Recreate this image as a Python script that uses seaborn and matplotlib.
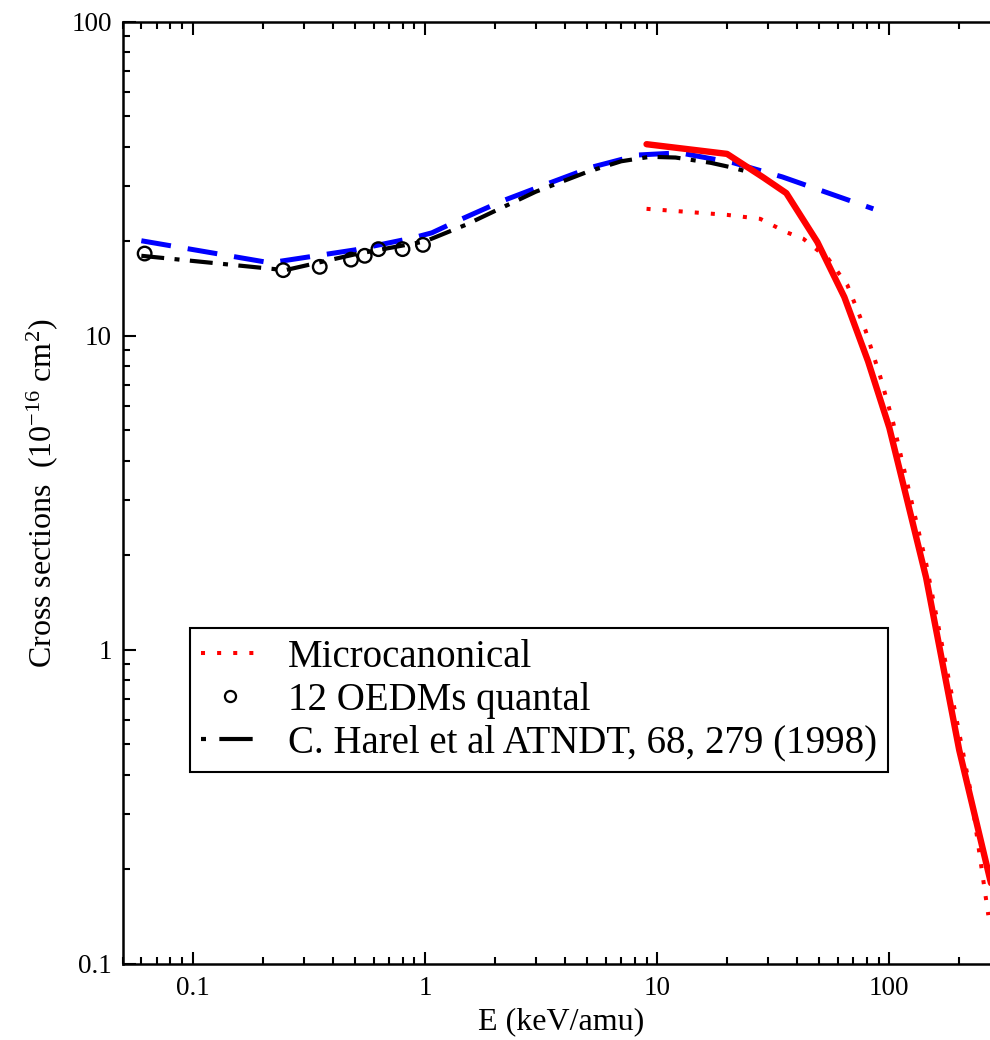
import numpy as np
import pandas as pd
import matplotlib
matplotlib.use("Agg")
import matplotlib.pyplot as plt
from matplotlib.ticker import FixedLocator, FixedFormatter, LogLocator, NullFormatter
from matplotlib.lines import Line2D
import seaborn as sns

# ---------------- data ----------------
micro_solid_E = [9, 20, 28.6, 36, 49, 64, 81, 100, 120, 144, 200, 272, 300]
micro_solid_s = [40.8, 38.0, 32.0, 28.5, 19.9, 13.3, 8.3, 5.1, 2.95, 1.7, 0.48, 0.185, 0.14]

micro_dot_E = [9, 20, 27.8, 36, 42.6, 54.6, 66, 79, 91.5, 104, 120, 144, 223, 267]
micro_dot_s = [25.4, 24.3, 23.6, 21.4, 20.4, 17.6, 14.5, 10.4, 7.4, 5.28, 3.35, 1.89, 0.36, 0.143]

harel_E = [0.06, 0.25, 0.5, 1.0, 1.5, 2.0, 3.0, 5.0, 7.0, 9.3, 12, 17, 20.6, 24.7]
harel_s = [18.0, 16.2, 18.2, 20.0, 22.6, 25.0, 28.8, 33.3, 36.0, 37.2, 37.0, 35.6, 34.5, 33.3]

harel2_E = [0.06, 0.215, 0.5, 0.88, 1.07, 1.37, 2.15, 3.36, 5.25, 8.3, 12.5, 21.3, 34.6, 85.3]
harel2_s = [20.1, 17.1, 18.8, 20.5, 21.3, 23.2, 26.9, 30.5, 34.5, 37.7, 38.3, 35.6, 32.1, 25.4]

oedm_E = [0.062, 0.245, 0.352, 0.48, 0.55, 0.63, 0.80, 0.98]
oedm_s = [18.3, 16.2, 16.6, 17.5, 18.0, 18.9, 18.9, 19.5]

x_ticks = [0.1, 1, 10, 100]
x_ticklabels = ["0.1", "1", "10", "100"]
y_ticks = [0.1, 1, 10, 100]
y_ticklabels = ["0.1", "1", "10", "100"]

legend_labels = ["Microcanonical", "12 OEDMs quantal", "C. Harel et al ATNDT, 68, 279 (1998)"]

# ---------------- style ----------------
sns.set_style("ticks")
plt.rcParams["font.family"] = ["Liberation Serif", "DejaVu Serif"]
plt.rcParams["mathtext.fontset"] = "custom"
plt.rcParams["mathtext.rm"] = "Liberation Serif"
plt.rcParams["mathtext.it"] = "Liberation Serif:italic"
plt.rcParams["text.color"] = "black"
plt.rcParams["axes.labelcolor"] = "black"
plt.rcParams["xtick.color"] = "black"
plt.rcParams["ytick.color"] = "black"
plt.rcParams["xtick.labelcolor"] = "black"
plt.rcParams["ytick.labelcolor"] = "black"

fig = plt.figure(figsize=(9.9, 10.4), dpi=100)
ax = fig.add_axes([0.1242, 0.0731, 0.886, 0.9058])

df_b = pd.DataFrame({"E": harel2_E, "s": harel2_s})
df_k = pd.DataFrame({"E": harel_E, "s": harel_s})
df_d = pd.DataFrame({"E": micro_dot_E, "s": micro_dot_s})
df_r = pd.DataFrame({"E": micro_solid_E, "s": micro_solid_s})
df_o = pd.DataFrame({"E": oedm_E, "s": oedm_s})

sns.lineplot(data=df_b, x="E", y="s", ax=ax, color="#0000ff", lw=3.6,
             linestyle=(0, (6, 3.4)), estimator=None)
sns.lineplot(data=df_k, x="E", y="s", ax=ax, color="black", lw=3.0,
             linestyle=(0, (5.5, 2.5, 1.2, 2.5)), estimator=None)
sns.lineplot(data=df_d, x="E", y="s", ax=ax, color="#ff0000", lw=2.9,
             linestyle=(0, (1, 3)), estimator=None)
sns.lineplot(data=df_r, x="E", y="s", ax=ax, color="#ff0000", lw=4.6,
             estimator=None)
sns.scatterplot(data=df_o, x="E", y="s", ax=ax, marker="o", s=95,
                facecolor="none", edgecolor="black", linewidth=1.7, zorder=5)

ax.set_xscale("log")
ax.set_yscale("log")
ax.set_xlim(0.05, 300)
ax.set_ylim(0.1, 100)

ax.xaxis.set_major_locator(FixedLocator(x_ticks))
ax.xaxis.set_major_formatter(FixedFormatter(x_ticklabels))
ax.yaxis.set_major_locator(FixedLocator(y_ticks))
ax.yaxis.set_major_formatter(FixedFormatter(y_ticklabels))
ax.xaxis.set_minor_locator(LogLocator(base=10, subs=np.arange(2, 10), numticks=20))
ax.yaxis.set_minor_locator(LogLocator(base=10, subs=np.arange(2, 10), numticks=20))
ax.xaxis.set_minor_formatter(NullFormatter())
ax.yaxis.set_minor_formatter(NullFormatter())

ax.tick_params(which="both", direction="in", top=True, right=False, width=1.5, color="black")
ax.tick_params(which="major", length=9, labelsize=19.5)
ax.tick_params(which="minor", length=4.8)
ax.tick_params(axis="x", which="major", pad=9)
ax.tick_params(axis="y", which="major", pad=8)

for sp in ax.spines.values():
    sp.set_linewidth(1.8)
    sp.set_color("black")

ax.set_xlabel("E (keV/amu)", fontsize=23, labelpad=4)
ax.set_ylabel(r"Cross sections  (10$^{\mathrm{-16}}$ cm$^{\mathrm{2}}$)", fontsize=23, labelpad=8)

handles = [
    Line2D([], [], color="#ff0000", lw=2.9, linestyle=(0, (1, 3))),
    Line2D([], [], color="black", marker="o", markersize=8, markerfacecolor="none",
           markeredgewidth=1.6, linestyle="none"),
    Line2D([], [], color="black", lw=3.0, linestyle=(0, (1.2, 3.2, 8, 8))),
]
leg = ax.legend(handles, legend_labels, loc="upper left", bbox_to_anchor=(0.0764, 0.3567),
                fontsize=28, frameon=True, fancybox=False, framealpha=1,
                edgecolor="black", handlelength=1.5, handletextpad=0.75,
                borderpad=0.28, labelspacing=0.15, borderaxespad=0)
leg.get_frame().set_linewidth(1.5)

fig.savefig("out.png", dpi=100)
